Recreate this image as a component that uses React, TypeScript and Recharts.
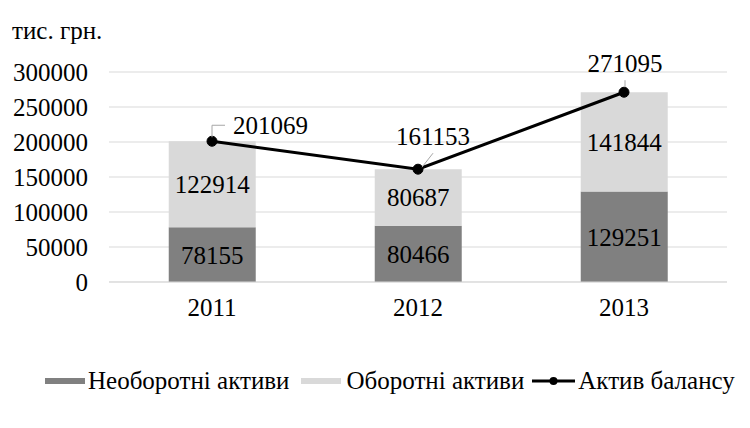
import React from 'react';
import { ComposedChart, Bar, Line, XAxis, YAxis, CartesianGrid, LabelList } from 'recharts';

const years = ['2011', '2012', '2013'];
const nonCurrentAssets = [78155, 80466, 129251];
const currentAssets = [122914, 80687, 141844];
const totalAssets = [201069, 161153, 271095];
const yTicks = [0, 50000, 100000, 150000, 200000, 250000, 300000];

const data = years.map((year, i) => ({
  year,
  nonCurrent: nonCurrentAssets[i],
  current: currentAssets[i],
  total: totalAssets[i],
}));

const FONT = 'Liberation Serif';
const FS = 25;
const DARK = '#808080';
const LIGHT = '#d9d9d9';

// label placement for the line values (Excel-like leader lines)
const TotalLabel = (props: any) => {
  const { x, y, value, index } = props;
  if (index === 0) {
    return (
      <g>
        <polyline points={`${x},${y - 4} ${x},${y - 16} ${x + 13},${y - 16}`} fill="none" stroke="#a6a6a6" strokeWidth={1} />
        <text x={x + 21} y={y - 16} dy="0.35em" textAnchor="start" fontSize={FS} fontFamily={FONT} fill="#000">{value}</text>
      </g>
    );
  }
  if (index === 1) {
    return (
      <g>
        <line x1={x + 4} y1={y - 2} x2={x + 15} y2={y - 16} stroke="#a6a6a6" strokeWidth={1} />
        <text x={x + 15} y={y - 33} dy="0.35em" textAnchor="middle" fontSize={FS} fontFamily={FONT} fill="#000">{value}</text>
      </g>
    );
  }
  return (
    <g>
      <line x1={x + 1} y1={y - 5} x2={x + 1} y2={y - 12} stroke="#a6a6a6" strokeWidth={1} />
      <text x={x + 1} y={y - 29} dy="0.35em" textAnchor="middle" fontSize={FS} fontFamily={FONT} fill="#000">{value}</text>
    </g>
  );
};

const legendText: React.CSSProperties = { fontSize: FS, fontFamily: FONT, color: '#000', whiteSpace: 'nowrap' };

export default function App() {
  return (
    <div style={{ position: 'absolute', left: 0, top: 0, width: 750, height: 428, background: '#fff', fontFamily: FONT }}>
      <div style={{ position: 'absolute', left: 12, top: 17, ...legendText }}>тис. грн.</div>
      <ComposedChart
        width={750}
        height={428}
        data={data}
        margin={{ top: 72, right: 23, bottom: 106, left: 0 }}
        barCategoryGap="29%"
      >
        <CartesianGrid vertical={false} stroke={LIGHT} strokeWidth={1} />
        <XAxis
          dataKey="year"
          height={40}
          axisLine={{ stroke: LIGHT }}
          tickLine={false}
          tickMargin={10}
          tick={{ fontSize: FS, fontFamily: FONT, fill: '#000' }}
        />
        <YAxis
          width={109}
          domain={[0, 300000]}
          ticks={yTicks}
          axisLine={false}
          tickLine={false}
          tickMargin={15}
          tick={{ fontSize: FS, fontFamily: FONT, fill: '#000' }}
        />
        <Bar dataKey="nonCurrent" stackId="a" fill={DARK} isAnimationActive={false}>
          <LabelList dataKey="nonCurrent" position="center" fill="#000" fontSize={FS} fontFamily={FONT} />
        </Bar>
        <Bar dataKey="current" stackId="a" fill={LIGHT} isAnimationActive={false}>
          <LabelList dataKey="current" position="center" fill="#000" fontSize={FS} fontFamily={FONT} />
        </Bar>
        <Line
          dataKey="total"
          stroke="#000"
          strokeWidth={3}
          dot={{ r: 5, fill: '#000', stroke: '#000', strokeWidth: 1 }}
          isAnimationActive={false}
        >
          <LabelList dataKey="total" content={TotalLabel} />
        </Line>
      </ComposedChart>
      <div style={{ position: 'absolute', left: 45, top: 366, height: 30, display: 'flex', alignItems: 'center' }}>
        <span style={{ display: 'inline-block', width: 40, height: 6, background: DARK, marginRight: 3 }} />
        <span style={legendText}>Необоротні активи</span>
        <span style={{ display: 'inline-block', width: 40, height: 6, background: LIGHT, marginLeft: 12, marginRight: 5 }} />
        <span style={legendText}>Оборотні активи</span>
        <svg width={43} height={12} style={{ marginLeft: 8, marginRight: 3 }}>
          <line x1={0} y1={6} x2={43} y2={6} stroke="#000" strokeWidth={3} />
          <circle cx={21.5} cy={6} r={4} fill="#000" />
        </svg>
        <span style={legendText}>Актив балансу</span>
      </div>
    </div>
  );
}
